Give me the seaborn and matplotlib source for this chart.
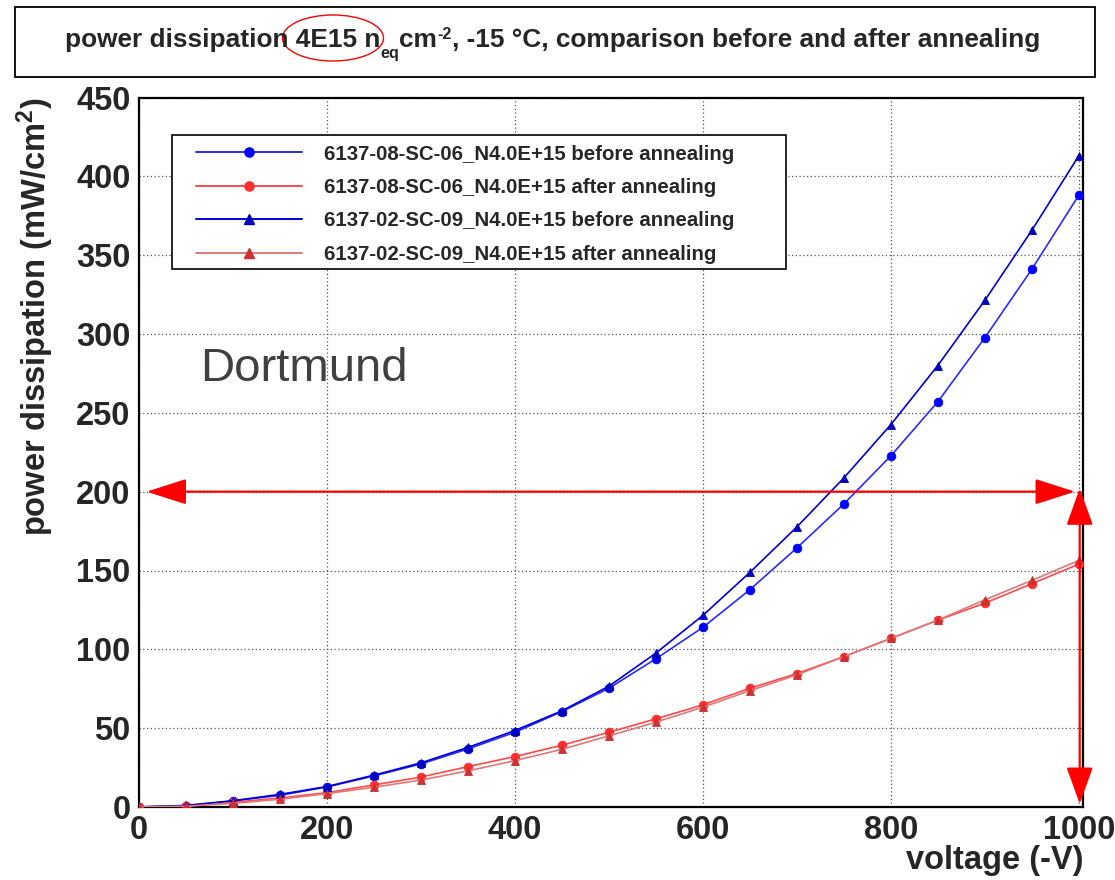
import matplotlib
matplotlib.use("Agg")
import matplotlib.pyplot as plt
from matplotlib.patches import Rectangle, Ellipse, FancyArrowPatch, ArrowStyle
from matplotlib.ticker import MultipleLocator
from matplotlib.lines import Line2D
import seaborn as sns
import pandas as pd

# bias voltage (-V)
voltage = [0, 50, 100, 150, 200, 250, 300, 350, 400, 450, 500,
           550, 600, 650, 700, 750, 800, 850, 900, 950, 1000]

# power dissipation (mW/cm^2)
sc06_before = [0, 0.8, 3.8, 7.4, 12.7, 19.7, 27.3, 36.8, 47.4, 60.5, 75.3,
               94.0, 113.9, 137.8, 164.3, 192.2, 222.7, 257.0, 297.6, 341.0, 388.0]
sc06_after = [0, 0.6, 3.0, 5.7, 9.1, 14.0, 19.0, 25.6, 32.0, 39.2, 47.4,
              55.9, 64.8, 75.3, 84.6, 95.4, 106.9, 118.5, 129.3, 141.6, 154.0]
sc09_before = [0, 1.0, 4.0, 8.0, 13.0, 20.2, 28.0, 37.8, 48.5, 61.0, 76.6,
               97.6, 121.5, 148.8, 177.6, 208.7, 242.5, 280.0, 321.3, 365.7, 413.0]
sc09_after = [0, 0.5, 2.3, 4.9, 8.5, 12.5, 17.1, 22.9, 29.4, 36.6, 45.1,
              53.8, 63.3, 73.8, 83.8, 95.4, 106.9, 118.5, 131.4, 143.7, 156.4]

labels = ["6137-08-SC-06_N4.0E+15 before annealing",
          "6137-08-SC-06_N4.0E+15 after annealing",
          "6137-02-SC-09_N4.0E+15 before annealing",
          "6137-02-SC-09_N4.0E+15 after annealing"]

limit_power = 200
limit_voltage = 1000

sns.set_style("white")
plt.rcParams["font.family"] = ["Liberation Sans", "DejaVu Sans"]
plt.rcParams["font.weight"] = "bold"
plt.rcParams["mathtext.default"] = "regular"

fig = plt.figure(figsize=(11.15, 8.8), dpi=100)
W, H = 1115.0, 880.0
ax = fig.add_axes([139 / W, 1 - 807 / H, (1083 - 139) / W, (807 - 97.5) / H])
ax.set_facecolor("white")

series = [
    (sc06_before, "#2a2aff", "#0000ff", "o", 6.2),
    (sc06_after, "#ff4a4a", "#ff2e2e", "o", 6.2),
    (sc09_before, "#0000d8", "#0000b8", "^", 6.2),
    (sc09_after, "#e07878", "#cc3030", "^", 6.2),
]
handles = []
for (vals, lc, mc, mk, ms), lab in zip(series, labels):
    df = pd.DataFrame({"voltage": voltage, "power": vals})
    sns.lineplot(data=df, x="voltage", y="power", ax=ax, color=lc, lw=1.2,
                 marker=mk, markersize=ms, markerfacecolor=mc,
                 markeredgecolor=mc, markeredgewidth=0.6, legend=False,
                 zorder=3)
    handles.append(Line2D([], [], color=lc, lw=1.4, marker=mk, markersize=ms + 0.4,
                          markerfacecolor=mc, markeredgecolor=mc))

ax.set_xlim(0, 1004.5)
ax.set_ylim(0, 450)
ax.xaxis.set_major_locator(MultipleLocator(200))
ax.xaxis.set_minor_locator(MultipleLocator(50))
ax.yaxis.set_major_locator(MultipleLocator(50))
ax.yaxis.set_minor_locator(MultipleLocator(10))
ax.tick_params(axis="x", which="major", direction="in", length=17, width=1.3,
               labelsize=23.5, pad=6, color="#222222")
ax.tick_params(axis="x", which="minor", direction="in", length=9, width=1.1,
               color="#333333")
ax.tick_params(axis="y", which="major", direction="in", length=20, width=1.3,
               labelsize=23.5, pad=6, color="#222222")
ax.tick_params(axis="y", which="minor", direction="in", length=10, width=1.1,
               color="#333333")
for lab in ax.get_xticklabels() + ax.get_yticklabels():
    lab.set_fontweight("bold")
ax.grid(True, which="major", color="#555555", linestyle=(0, (1, 2)), lw=0.9)
for s in ax.spines.values():
    s.set_visible(True)
    s.set_color("black")
    s.set_linewidth(1.6)

ax.set_xlabel("voltage (-V)", fontsize=23.5, fontweight="bold", loc="right")
ax.xaxis.set_label_coords(1.0, -0.053)
ax.set_ylabel("power dissipation (mW/cm$^{2}$)", fontsize=23.5,
              fontweight="bold", loc="top")
ax.yaxis.set_label_coords(-0.088, 1.0)

# 200 mW/cm^2 limit and 1000 V limit arrows
hstyle = ArrowStyle("<|-|>", head_length=25, head_width=8)
ax.add_patch(FancyArrowPatch((8, limit_power), (996, limit_power),
                             arrowstyle=hstyle, mutation_scale=1, color="red",
                             lw=1.6, shrinkA=0, shrinkB=0, zorder=4))
vstyle = ArrowStyle("<|-|>", head_length=23, head_width=8.3)
ax.add_patch(FancyArrowPatch((limit_voltage + 1, 2), (limit_voltage + 1, 202),
                             arrowstyle=vstyle, mutation_scale=1, color="red",
                             lw=1.6, shrinkA=0, shrinkB=0, zorder=4,
                             clip_on=False))

ax.text(65, 270, "Dortmund", fontsize=34, fontweight="normal",
        color="#404040", va="baseline", ha="left")

# legend box
ax.add_patch(Rectangle((172 / W, 1 - 269 / H), 614 / W, 134 / H,
                       transform=fig.transFigure, facecolor="white",
                       edgecolor="black", lw=1.2, zorder=5, clip_on=False))
leg = ax.legend(handles, labels, loc="upper left",
                bbox_to_anchor=(196 / W, 1 - 144.5 / H),
                bbox_transform=fig.transFigure, frameon=False, borderpad=0,
                borderaxespad=0, handlelength=5.2, handletextpad=1.08,
                labelspacing=0.71,
                prop={"family": "Liberation Sans", "weight": "bold", "size": 14.7})
leg.set_zorder(6)

# title box with the title set piece by piece (sub- and superscripts)
fig.patches.append(Rectangle((15 / W, 1 - 77 / H), 1080 / W, 70 / H,
                             transform=fig.transFigure, facecolor="none",
                             edgecolor="black", lw=1.3))
big, small = 18.9, 11.7
prev = fig.text(65 / W, 1 - 46.7 / H, "power dissipation 4E15 n",
                fontsize=big, fontweight="bold", ha="left", va="baseline")
pieces = [("eq", small, -6.9), ("cm", big, 6.9), ("-2", small, 7.3),
          (", -15 \u00b0C, comparison before and after annealing", big, -7.3)]
for txt, size, dy in pieces:
    prev = ax.annotate(txt, xy=(1, 0), xycoords=prev, xytext=(0, dy),
                       textcoords="offset points", fontsize=size,
                       fontweight="bold", ha="left", va="bottom")
fig.patches.append(Ellipse((333 / W, 1 - 38 / H), 101 / W, 46 / H,
                           transform=fig.transFigure, facecolor="none",
                           edgecolor="red", lw=1.0))

fig.savefig("out.png", dpi=100, facecolor="white")
